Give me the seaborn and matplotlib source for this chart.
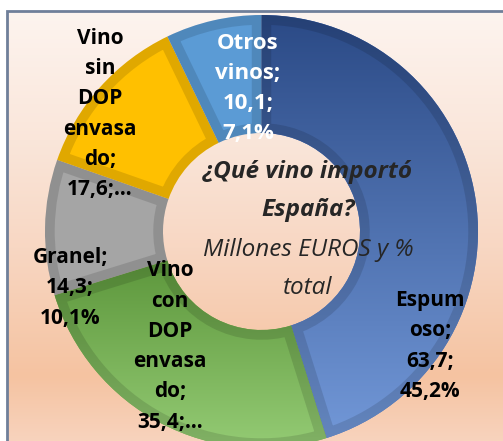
import numpy as np
import matplotlib
matplotlib.use("Agg")
import matplotlib.pyplot as plt
from matplotlib.colors import LinearSegmentedColormap
from matplotlib.patches import Rectangle, Wedge
import seaborn as sns

# data: imports of wine into Spain, million EUR and % of total
categories = ["Espumoso", "Vino con DOP envasado", "Granel", "Vino sin DOP envasado", "Otros vinos"]
values = [63.7, 35.4, 14.3, 17.6, 10.1]
labels = ["Espum\noso;\n63,7;\n45,2%",
          "Vino\ncon\nDOP\nenvasa\ndo;\n35,4;…",
          "Granel;\n14,3;\n10,1%",
          "Vino\nsin\nDOP\nenvasa\ndo;\n17,6;…",
          "Otros\nvinos;\n10,1;\n7,1%"]
colors = ["#4472C4", "#70AD47", "#A5A5A5", "#FFC000", "#5B9BD5"]

sns.set_theme(style="white")
plt.rcParams["font.family"] = ["Open Sans", "DejaVu Sans"]

W, H = 503, 441
fig = plt.figure(figsize=(W / 100, H / 100), dpi=100)
ax = fig.add_axes([0, 0, 1, 1])
palette = sns.color_palette(colors)

def Y(y):
    return H - y

# background with frame
bg = LinearSegmentedColormap.from_list("bg", [(0, "#FDF4EF"), (0.3, "#FAE6DA"), (0.55, "#F8D7C3"),
                                              (0.85, "#F5C3A1"), (1, "#F8D3BD")])
grad = np.linspace(0, 1, 256).reshape(-1, 1)
ax.imshow(grad, cmap=bg, aspect="auto", extent=(7, W, 0, Y(11)), zorder=0)
ax.add_patch(Rectangle((7, -10), W + 10, Y(11) + 10, fill=False, ec="#6F7F99", lw=2, zorder=1))

cx, cy, r_out, r_in = 261.5, Y(231.5), 216.5, 98.5
wedges, _ = ax.pie(values, colors=palette, startangle=90, counterclock=False,
                   center=(cx, cy), radius=r_out,
                   wedgeprops=dict(width=r_out - r_in, linewidth=0))
for w in wedges:
    w.set_zorder(2)

# vertical gradients on the blue and green slices
def gradient_fill(wedge, top, bottom, c1, c2):
    cm = LinearSegmentedColormap.from_list("g", [c1, c2])
    im = ax.imshow(np.linspace(0, 1, 256).reshape(-1, 1), cmap=cm, aspect="auto",
                   extent=(cx - r_out, cx + r_out, Y(bottom), Y(top)), zorder=3)
    im.set_clip_path(wedge)

gradient_fill(wedges[0], 15, 441, "#2B4A86", "#7298D8")
gradient_fill(wedges[1], 250, 441, "#5A9439", "#92C972")

# darker bevel band along each slice edge
for w in wedges:
    band = Wedge(w.center, w.r, w.theta1, w.theta2, width=w.width, fc="none",
                 ec=(0, 0, 0, 0.12), lw=14, zorder=4)
    ax.add_patch(band)
    band.set_clip_path(w)

# slice labels
lab_pos = [(430, 346, "black", 15), (170, 346.5, "black", 15), (70, 288, "black", 15),
           (100, 114, "black", 15), (248, 88.5, "white", 16)]
for txt, (x, y, c, s) in zip(labels, lab_pos):
    ax.text(x, Y(y), txt, ha="center", va="center", color=c, fontsize=s,
            fontweight="bold", linespacing=1.58, zorder=6)

# title in the hole
ax.text(308, Y(172), "¿Qué vino importó", ha="center", va="center", fontsize=17.5,
        fontweight="bold", fontstyle="italic", zorder=6)
ax.text(308, Y(210), "España?", ha="center", va="center", fontsize=17.5,
        fontweight="bold", fontstyle="italic", zorder=6)
ax.text(308, Y(250), "Millones EUROS y %", ha="center", va="center", fontsize=17.5,
        fontstyle="italic", zorder=6)
ax.text(308, Y(288), "total", ha="center", va="center", fontsize=17.5,
        fontstyle="italic", zorder=6)

ax.set_xlim(0, W)
ax.set_ylim(0, H)
ax.set_aspect("equal")
ax.axis("off")
fig.savefig("out.png", dpi=100, facecolor="white")
